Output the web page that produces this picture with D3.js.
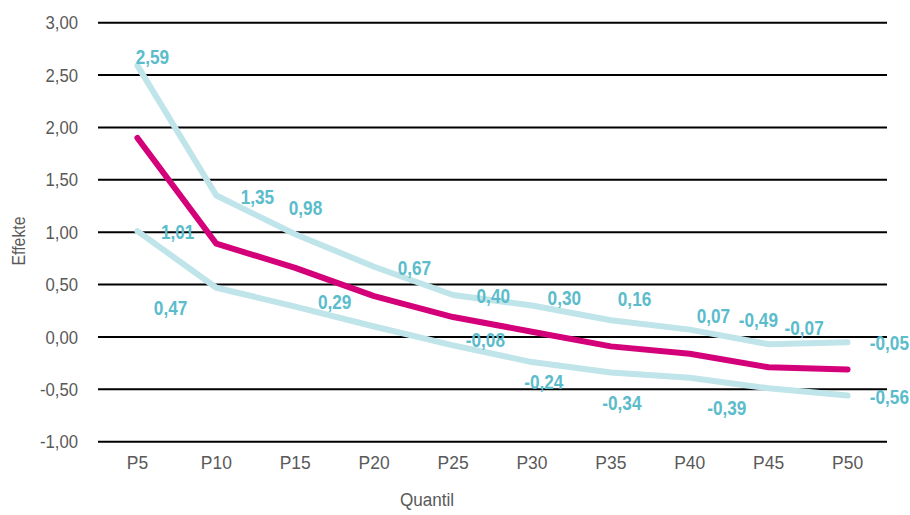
<!DOCTYPE html>
<html><head><meta charset="utf-8">
<script src="https://cdn.jsdelivr.net/npm/d3@7"></script>
<style>body{margin:0;background:#fff}</style>
</head><body>
<svg id="c" width="910" height="515"></svg>
<script>
const categories = ["P5","P10","P15","P20","P25","P30","P35","P40","P45","P50"];
const upper = [2.59,1.35,0.98,0.67,0.40,0.30,0.16,0.07,-0.07,-0.05];
const middle = [1.90,0.89,0.66,0.39,0.19,0.05,-0.09,-0.16,-0.29,-0.31];
const lower = [1.01,0.47,0.29,0.10,-0.08,-0.24,-0.34,-0.39,-0.49,-0.56];
const yTicks = [-1,-0.5,0,0.5,1,1.5,2,2.5,3];
// data labels: text, category position (fractional index), value position
const labelText = ["2,59","1,35","0,98","0,67","0,40","0,30","0,16","0,07","-0,49","-0,07","-0,05",
                   "1,01","0,47","0,29","-0,08","-0,24","-0,34","-0,39","-0,56"];
const labelCat = [0.19,1.52,2.13,3.51,4.51,5.41,6.30,7.30,7.87,8.45,9.53,
                  0.51,0.42,2.50,4.41,5.15,6.14,7.47,9.53];
const labelVal = [2.67,1.34,1.23,0.66,0.39,0.37,0.36,0.20,0.16,0.09,-0.06,
                  1.00,0.28,0.33,-0.03,-0.43,-0.63,-0.68,-0.57];

const svg = d3.select("#c");
const x = d3.scalePoint().domain(d3.range(categories.length)).range([98,887]).padding(0.5);
const xc = i => 98 + (i + 0.5) * (789/categories.length);
const y = d3.scaleLinear().domain([-1,3]).range([441.7,22.7]);
const fmt = v => d3.format(".2f")(v).replace(".", ",").replace("−","-");
const font = "'Liberation Sans',Arial,sans-serif";

svg.append("g").selectAll("line").data(yTicks).join("line")
  .attr("x1",98).attr("x2",887).attr("y1",d=>y(d)).attr("y2",d=>y(d))
  .attr("stroke","#000").attr("stroke-width",2);

svg.append("g").selectAll("text").data(yTicks).join("text")
  .attr("transform",d=>`translate(78,${y(d)}) scale(0.88,1)`).attr("dy","0.35em").attr("text-anchor","end")
  .attr("font-family",font).attr("font-size",19).attr("fill","#595959").text(fmt);

svg.append("g").selectAll("text").data(categories).join("text")
  .attr("transform",(d,i)=>`translate(${x(i)},462) scale(0.92,1)`).attr("dy","0.35em").attr("text-anchor","middle")
  .attr("font-family",font).attr("font-size",19).attr("fill","#595959").text(d=>d);

svg.append("text").attr("transform","translate(19,241) rotate(-90) scale(0.88,1)").attr("text-anchor","middle")
  .attr("dy","0.35em").attr("font-family",font).attr("font-size",18).attr("fill","#595959").text("Effekte");
svg.append("text").attr("transform","translate(427,499) scale(0.9,1)").attr("text-anchor","middle").attr("dy","0.35em")
  .attr("font-family",font).attr("font-size",19).attr("fill","#595959").text("Quantil");

const line = d3.line().x((d,i)=>x(i)).y(d=>y(d));
[[upper,"#bfe4e9"],[lower,"#bfe4e9"],[middle,"#d4007a"]].forEach(([s,c])=>{
  svg.append("path").datum(s).attr("d",line).attr("fill","none").attr("stroke",c)
    .attr("stroke-width",6).attr("stroke-linecap","round").attr("stroke-linejoin","round");
});

svg.append("g").selectAll("text").data(labelText).join("text")
  .attr("transform",(d,i)=>`translate(${xc(labelCat[i])},${y(labelVal[i])}) scale(0.86,1)`).attr("dy","0.35em")
  .attr("text-anchor","middle").attr("font-family",font).attr("font-weight","bold")
  .attr("font-size",20).attr("fill","#5bbccb").text(d=>d);
</script>
</body></html>
